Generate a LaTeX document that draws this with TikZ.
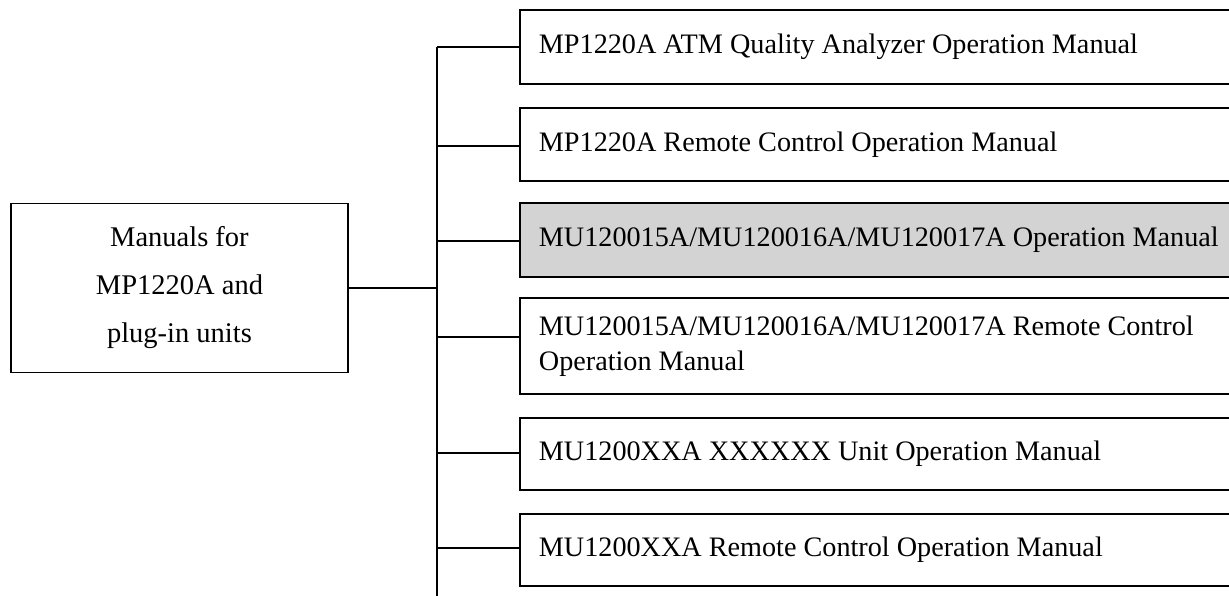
\documentclass[tikz,border=0pt]{standalone}
\usepackage{fontspec}
\setmainfont{Liberation Serif}
\definecolor{boxgray}{RGB}{211,211,211}
\newcommand\normsp{\spaceskip=0pt\xspaceskip=0pt\relax}
\begin{document}
\begin{tikzpicture}[x=1pt,y=-1pt,line width=1.8pt,
  txt/.style={font=\fontsize{28.2}{35}\selectfont},
  manual/.style={txt,draw,anchor=north west,text width=780pt,
    align=left,inner xsep=19pt,inner ysep=0pt,execute at begin node=\normsp},
  mainbox/.style={draw,minimum width=337pt,minimum height=169pt,align=center,
    font=\fontsize{28.5}{48}\selectfont}]
\useasboundingbox (0,0) rectangle (1229,596);
\node[mainbox] (main) at (179.5,288) {Manuals for\\MP1220A and\\plug-in units};
\node[manual,minimum height=74pt] (b1) at (519,9) {MP1220A ATM Quality Analyzer Operation Manual};
\node[manual,minimum height=73pt] (b2) at (519,107) {MP1220A Remote Control Operation Manual};
\node[manual,minimum height=74pt,fill=boxgray] (b3) at (519,202) {MU120015A/MU120016A/MU120017A Operation Manual};
\node[manual,minimum height=96pt] (b4) at (519,297) {MU120015A/MU120016A/MU120017A Remote Control\\Operation Manual};
\node[manual,minimum height=72pt] (b5) at (519,417) {MU1200XXA XXXXXX Unit Operation Manual};
\node[manual,minimum height=72pt] (b6) at (519,513) {MU1200XXA Remote Control Operation Manual};
\coordinate (ttop) at (437,47);
\coordinate (tbot) at (437,600);
\coordinate (j1) at (437,47);
\coordinate (j2) at (437,146);
\coordinate (j3) at (437,241);
\coordinate (j4) at (437,337);
\coordinate (j5) at (437,453);
\coordinate (j6) at (437,548);
\draw (ttop) -- (tbot);
\draw (main.east) -- (main.east -| ttop);
\draw (j1) -- (j1 -| b1.west);
\draw (j2) -- (j2 -| b2.west);
\draw (j3) -- (j3 -| b3.west);
\draw (j4) -- (j4 -| b4.west);
\draw (j5) -- (j5 -| b5.west);
\draw (j6) -- (j6 -| b6.west);
\end{tikzpicture}
\end{document}
